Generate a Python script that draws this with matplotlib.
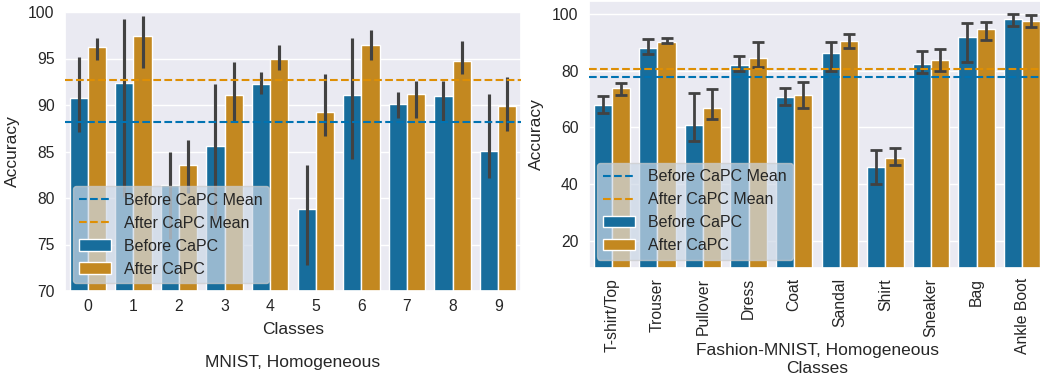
"""Per-class accuracy before / after CaPC on MNIST and Fashion-MNIST"""

import numpy as np
import matplotlib
matplotlib.use("Agg")
import matplotlib.pyplot as plt
import seaborn as sns

sns.set_theme(style="darkgrid")
LABEL_SIZE = 12.5
TICK_SIZE = 11.3
plt.rcParams["font.family"] = ["Liberation Sans", "DejaVu Sans"]
plt.rcParams["font.size"] = LABEL_SIZE
plt.rcParams["axes.labelsize"] = LABEL_SIZE
plt.rcParams["xtick.labelsize"] = TICK_SIZE
plt.rcParams["ytick.labelsize"] = TICK_SIZE
plt.rcParams["legend.fontsize"] = 11.5

# MNIST, homogeneous
mnist_classes = ["0", "1", "2", "3", "4", "5", "6", "7", "8", "9"]
mnist_before = [90.8, 92.4, 81.4, 85.6, 92.3, 78.8, 91.1, 90.1, 91.0, 85.1]
mnist_before_lo = [87.1, 80.1, 75.6, 77.6, 91.2, 72.8, 84.2, 88.6, 88.2, 82.1]
mnist_before_hi = [95.2, 99.3, 85.0, 92.3, 93.6, 83.6, 97.2, 91.4, 92.6, 91.2]
mnist_after = [96.2, 97.4, 83.6, 91.1, 95.0, 89.2, 96.4, 91.2, 94.7, 89.9]
mnist_after_lo = [94.8, 94.0, 80.5, 88.2, 93.8, 86.7, 94.8, 88.6, 93.3, 87.2]
mnist_after_hi = [97.2, 99.6, 86.2, 94.6, 96.4, 93.3, 98.1, 92.6, 96.9, 93.0]
mnist_before_mean = 88.14
mnist_after_mean = 92.65

# Fashion-MNIST, homogeneous
fashion_classes = ["T-shirt/Top", "Trouser", "Pullover", "Dress", "Coat",
                   "Sandal", "Shirt", "Sneaker", "Bag", "Ankle Boot"]
fashion_before = [67.8, 88.1, 60.8, 82.0, 70.8, 86.1, 45.9, 82.4, 91.8, 98.1]
fashion_before_lo = [64.9, 85.8, 55.1, 80.0, 67.9, 80.0, 40.1, 79.1, 82.9, 95.9]
fashion_before_hi = [71.1, 91.1, 72.0, 85.1, 74.0, 90.0, 52.0, 86.9, 96.9, 100.0]
fashion_after = [74.0, 90.2, 66.9, 84.6, 71.3, 90.6, 49.3, 83.9, 94.6, 97.5]
fashion_after_lo = [71.3, 89.7, 62.9, 81.4, 66.9, 88.1, 46.8, 80.0, 90.8, 95.3]
fashion_after_hi = [75.8, 91.4, 73.7, 90.1, 76.0, 92.8, 52.8, 87.5, 97.2, 99.5]
fashion_before_mean = 77.65
fashion_after_mean = 80.47

palette = sns.color_palette("colorblind")
COLOR_BEFORE = palette[0]
COLOR_AFTER = palette[1]
ERR_COLOR = "#424242"


def draw_panel(ax, classes, before, before_lo, before_hi, after, after_lo, after_hi,
               before_mean, after_mean, capsize, err_lw):
    """Grouped bars with error bars and the two mean lines"""
    x = np.arange(len(classes))
    before = np.asarray(before)
    after = np.asarray(after)

    bars_b = ax.bar(x - 0.2, before, width=0.4, color=sns.desaturate(COLOR_BEFORE, 0.75),
                    edgecolor="white", linewidth=1, label="Before CaPC", zorder=2)
    bars_a = ax.bar(x + 0.2, after, width=0.4, color=sns.desaturate(COLOR_AFTER, 0.75),
                    edgecolor="white", linewidth=1, label="After CaPC", zorder=2)

    ax.errorbar(x - 0.2, before,
                yerr=[before - np.asarray(before_lo), np.asarray(before_hi) - before],
                fmt="none", ecolor=ERR_COLOR, elinewidth=err_lw, capsize=capsize,
                capthick=err_lw, zorder=3)
    ax.errorbar(x + 0.2, after,
                yerr=[after - np.asarray(after_lo), np.asarray(after_hi) - after],
                fmt="none", ecolor=ERR_COLOR, elinewidth=err_lw, capsize=capsize,
                capthick=err_lw, zorder=3)

    line_b = ax.axhline(before_mean, color=COLOR_BEFORE, linestyle="--", lw=1.5,
                        label="Before CaPC Mean", zorder=4)
    line_a = ax.axhline(after_mean, color=COLOR_AFTER, linestyle="--", lw=1.5,
                        label="After CaPC Mean", zorder=4)

    ax.set_xticks(x)
    ax.set_xticklabels(classes)
    ax.set_xlim(-0.5, len(classes) - 0.5)
    ax.grid(False, axis="x")
    ax.set_ylabel("Accuracy")
    ax.set_xlabel("Classes")
    ax.xaxis.label.set_verticalalignment("baseline")
    ax.tick_params(length=0)
    ax.tick_params(axis="y", pad=7.5)

    leg = ax.legend(handles=[line_b, line_a, bars_b, bars_a], loc="lower left",
                    facecolor="#ccd8e6", framealpha=0.7)
    leg.set_zorder(5)


fig = plt.figure(figsize=(10.4, 3.79), dpi=100)

# Left: MNIST
ax1 = fig.add_axes([65 / 1040, 1 - 291 / 379, 456 / 1040, 279 / 379])
draw_panel(ax1, mnist_classes, mnist_before, mnist_before_lo, mnist_before_hi,
           mnist_after, mnist_after_lo, mnist_after_hi,
           mnist_before_mean, mnist_after_mean, capsize=0, err_lw=2.25)
ax1.set_ylim(70, 100)
ax1.set_yticks([70, 75, 80, 85, 90, 95, 100])
ax1.tick_params(axis="x", pad=5.5)
ax1.xaxis.set_label_coords(0.5, -(334 - 291) / 279)
ax1.yaxis.set_label_coords(-(65 - 20) / 456, 0.5)
fig.text(293 / 1040, 1 - 367.5 / 379, "MNIST, Homogeneous", ha="center", va="baseline",
         fontsize=LABEL_SIZE)

# Right: Fashion-MNIST
ax2 = fig.add_axes([589 / 1040, 1 - 267.5 / 379, 456 / 1040, 266.5 / 379])
draw_panel(ax2, fashion_classes, fashion_before, fashion_before_lo, fashion_before_hi,
           fashion_after, fashion_after_lo, fashion_after_hi,
           fashion_before_mean, fashion_after_mean, capsize=4.3, err_lw=2.0)
ax2.set_ylim(10.5, 104.6)
ax2.set_yticks([20, 40, 60, 80, 100])
ax2.tick_params(axis="x", pad=7.5, labelrotation=90)
ax2.xaxis.set_label_coords(0.5, -(372.7 - 267.5) / 266.5)
ax2.yaxis.set_label_coords(-(589 - 544) / 456, 0.5)
fig.text(817 / 1040, 1 - 355 / 379, "Fashion-MNIST, Homogeneous", ha="center",
         va="baseline", fontsize=LABEL_SIZE)

fig.savefig("out.png", dpi=100)
